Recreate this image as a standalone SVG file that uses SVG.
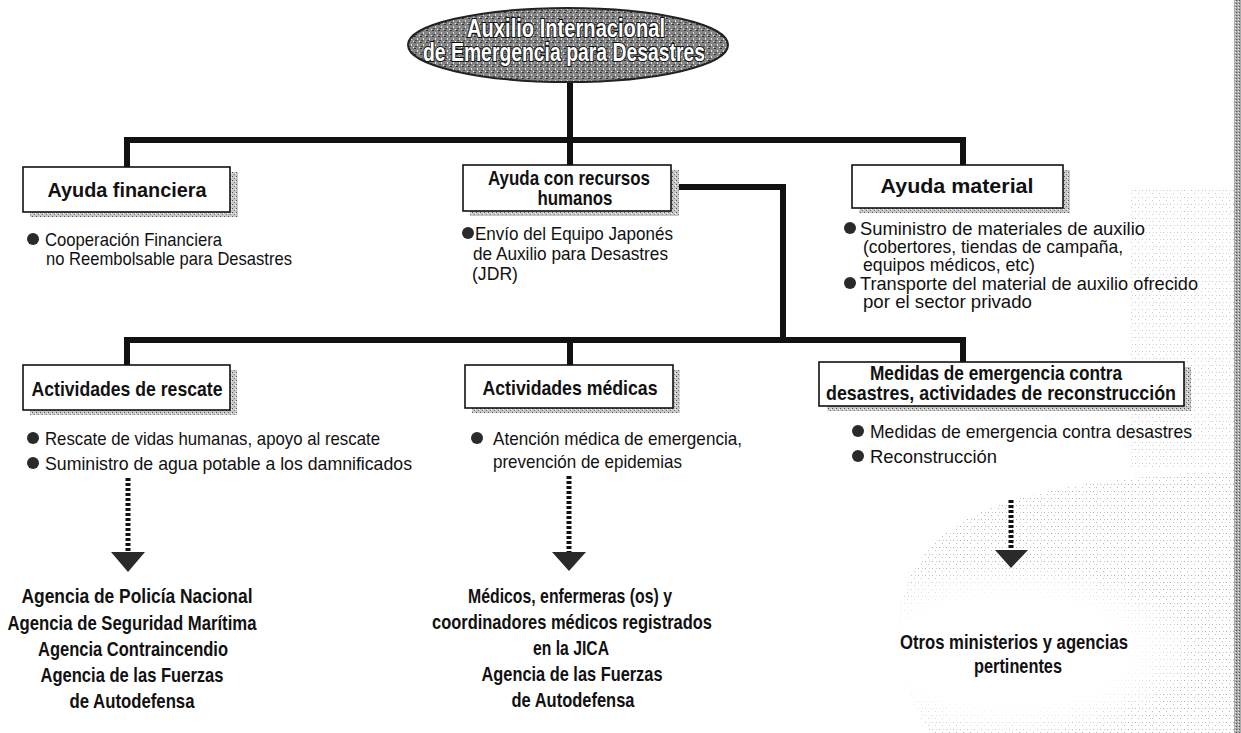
<svg xmlns="http://www.w3.org/2000/svg" width="1241" height="733" viewBox="0 0 1241 733">
<defs>
<pattern id="ellTex" width="6" height="6" patternUnits="userSpaceOnUse">
<rect width="6" height="6" fill="#858585"/>
<rect x="0" y="0" width="2" height="1" fill="#333"/>
<rect x="3" y="2" width="1" height="2" fill="#ddd"/>
<rect x="1" y="4" width="2" height="1" fill="#444"/>
<rect x="5" y="5" width="1" height="1" fill="#eee"/>
</pattern>
<pattern id="shadowTex" width="4" height="4" patternUnits="userSpaceOnUse">
<rect width="4" height="4" fill="#c8c8c8"/>
<rect x="0" y="0" width="1" height="1" fill="#555"/>
<rect x="2" y="2" width="1" height="1" fill="#777"/>
<rect x="3" y="1" width="1" height="1" fill="#fff"/>
</pattern>
<pattern id="speck" width="7" height="7" patternUnits="userSpaceOnUse">
<rect width="7" height="7" fill="#fff"/>
<rect x="1" y="1" width="1" height="1" fill="#999"/>
<rect x="4" y="4" width="1" height="1" fill="#aaa"/>
<rect x="5" y="1" width="1" height="1" fill="#bbb"/>
</pattern>
<pattern id="edgeTex" width="3" height="3" patternUnits="userSpaceOnUse">
<rect width="3" height="3" fill="#aaa"/>
<rect x="0" y="0" width="1" height="1" fill="#555"/>
<rect x="2" y="1" width="1" height="1" fill="#eee"/>
</pattern>
<radialGradient id="fade" cx="0.5" cy="0.5" r="0.5">
<stop offset="0.6" stop-color="#fff" stop-opacity="1"/>
<stop offset="1" stop-color="#fff" stop-opacity="0"/>
</radialGradient>
</defs>
<style>
.box{fill:#fff;stroke:#111;stroke-width:1.6}
.shadow{fill:url(#shadowTex)}
.title{font-family:"Liberation Sans",Arial,sans-serif;font-weight:bold;font-size:21px;fill:#111;text-anchor:middle}
.body{font-family:"Liberation Sans",Arial,sans-serif;font-size:19px;fill:#111}
.agency{font-family:"Liberation Sans",Arial,sans-serif;font-weight:bold;font-size:20.5px;fill:#111;text-anchor:middle}
.bullet{fill:#2a2a2a}
.conn{fill:none;stroke:#111;stroke-width:6;stroke-linejoin:miter;stroke-linecap:square}
.dash{stroke:#111;stroke-width:5;stroke-dasharray:3 2}
.head{fill:#2a2a2a}
.rootText{font-family:"Liberation Sans",Arial,sans-serif;font-weight:bold;font-size:25px;fill:#fff;stroke:#111;stroke-width:2.2;paint-order:stroke;text-anchor:middle}
</style>
<rect width="1241" height="733" fill="#fff"/>
<!-- background texture -->
<path d="M930,733 C900,690 880,620 920,560 C960,500 1060,480 1234,470 L1234,733 Z" fill="url(#speck)" opacity="0.8"/>
<rect x="1130" y="190" width="104" height="280" fill="url(#speck)" opacity="0.6"/>
<ellipse cx="1010" cy="652" rx="190" ry="90" fill="url(#fade)"/>
<rect x="1234" y="0" width="7" height="733" fill="url(#edgeTex)"/>

<g id="connectors">
<polyline class="conn" points="570,82 570,140"/>
<polyline class="conn" points="127,167 127,140 963,140 963,165"/>
<polyline class="conn" points="570,140 570,165"/>
<polyline class="conn" points="680,187 783,187 783,340"/>
<polyline class="conn" points="127,365 127,340 963,340 963,362"/>
<polyline class="conn" points="570,340 570,365"/>
<line class="dash" x1="128" y1="478" x2="128" y2="552"/>
<polygon class="head" points="111,552 145,552 128,572"/>
<line class="dash" x1="569" y1="476" x2="569" y2="552"/>
<polygon class="head" points="552,552 586,552 569,571"/>
<line class="dash" x1="1011" y1="500" x2="1011" y2="550"/>
<polygon class="head" points="995,550 1028,550 1011,568"/>
</g>

<g id="node-root">
<ellipse cx="568" cy="45" rx="160" ry="37" fill="url(#ellTex)" stroke="#222" stroke-width="2"/>
<text class="rootText" x="566" y="37" textLength="198" lengthAdjust="spacingAndGlyphs">Auxilio Internacional</text>
<text class="rootText" x="564" y="61" textLength="282" lengthAdjust="spacingAndGlyphs">de Emergencia para Desastres</text>
</g>

<g id="node-financiera">
<rect class="shadow" x="30" y="172" width="208" height="45"/>
<rect class="box" x="23" y="167" width="207" height="45"/>
<text class="title" x="127" y="197" textLength="159" lengthAdjust="spacingAndGlyphs">Ayuda financiera</text>
<circle class="bullet" cx="33" cy="239" r="6"/>
<text class="body" x="45" y="246" textLength="177" lengthAdjust="spacingAndGlyphs">Cooperación Financiera</text>
<text class="body" x="46" y="265" textLength="246" lengthAdjust="spacingAndGlyphs">no Reembolsable para Desastres</text>
</g>

<g id="node-recursos">
<rect class="shadow" x="470" y="170" width="209" height="46"/>
<rect class="box" x="463" y="165" width="208" height="46"/>
<text class="title" x="569" y="185" textLength="162" lengthAdjust="spacingAndGlyphs">Ayuda con recursos</text>
<text class="title" x="575" y="205" textLength="75" lengthAdjust="spacingAndGlyphs">humanos</text>
<circle class="bullet" cx="468" cy="233" r="6"/>
<text class="body" x="475" y="240" textLength="198" lengthAdjust="spacingAndGlyphs">Envío del Equipo Japonés</text>
<text class="body" x="473" y="260" textLength="195" lengthAdjust="spacingAndGlyphs">de Auxilio para Desastres</text>
<text class="body" x="472" y="280" textLength="46" lengthAdjust="spacingAndGlyphs">(JDR)</text>
</g>

<g id="node-material">
<rect class="shadow" x="859" y="170" width="211" height="43"/>
<rect class="box" x="852" y="165" width="211" height="43"/>
<text class="title" x="957" y="193" textLength="153" lengthAdjust="spacingAndGlyphs">Ayuda material</text>
<circle class="bullet" cx="850" cy="228" r="6"/>
<text class="body" x="860" y="235" textLength="285" lengthAdjust="spacingAndGlyphs">Suministro de materiales de auxilio</text>
<text class="body" x="863" y="253" textLength="260" lengthAdjust="spacingAndGlyphs">(cobertores, tiendas de campaña,</text>
<text class="body" x="863" y="271" textLength="172" lengthAdjust="spacingAndGlyphs">equipos médicos, etc)</text>
<circle class="bullet" cx="850" cy="283" r="6"/>
<text class="body" x="860" y="290" textLength="338" lengthAdjust="spacingAndGlyphs">Transporte del material de auxilio ofrecido</text>
<text class="body" x="863" y="308" textLength="169" lengthAdjust="spacingAndGlyphs">por el sector privado</text>
</g>

<g id="node-rescate">
<rect class="shadow" x="30" y="370" width="207" height="45"/>
<rect class="box" x="23" y="365" width="207" height="45"/>
<text class="title" x="127" y="396" textLength="191" lengthAdjust="spacingAndGlyphs">Actividades de rescate</text>
<circle class="bullet" cx="33" cy="438" r="6"/>
<text class="body" x="45" y="445" textLength="335" lengthAdjust="spacingAndGlyphs">Rescate de vidas humanas, apoyo al rescate</text>
<circle class="bullet" cx="33" cy="463" r="6"/>
<text class="body" x="45" y="470" textLength="367" lengthAdjust="spacingAndGlyphs">Suministro de agua potable a los damnificados</text>
</g>

<g id="node-medicas">
<rect class="shadow" x="472" y="370" width="208" height="43"/>
<rect class="box" x="465" y="365" width="208" height="43"/>
<text class="title" x="570" y="395" textLength="175" lengthAdjust="spacingAndGlyphs">Actividades médicas</text>
<circle class="bullet" cx="477" cy="438" r="6"/>
<text class="body" x="493" y="445" textLength="249" lengthAdjust="spacingAndGlyphs">Atención médica de emergencia,</text>
<text class="body" x="493" y="468" textLength="189" lengthAdjust="spacingAndGlyphs">prevención de epidemias</text>
</g>

<g id="node-medidas">
<rect class="shadow" x="827" y="367" width="364" height="44"/>
<rect class="box" x="819" y="362" width="365" height="44"/>
<text class="title" x="996" y="380" textLength="252" lengthAdjust="spacingAndGlyphs">Medidas de emergencia contra</text>
<text class="title" x="1001" y="400" textLength="350" lengthAdjust="spacingAndGlyphs">desastres, actividades de reconstrucción</text>
<circle class="bullet" cx="858" cy="431" r="6"/>
<text class="body" x="870" y="438" textLength="322" lengthAdjust="spacingAndGlyphs">Medidas de emergencia contra desastres</text>
<circle class="bullet" cx="858" cy="456" r="6"/>
<text class="body" x="870" y="463" textLength="127" lengthAdjust="spacingAndGlyphs">Reconstrucción</text>
</g>

<g id="node-agencias">
<text class="agency" x="137" y="603" textLength="231" lengthAdjust="spacingAndGlyphs">Agencia de Policía Nacional</text>
<text class="agency" x="132" y="630" textLength="249" lengthAdjust="spacingAndGlyphs">Agencia de Seguridad Marítima</text>
<text class="agency" x="133" y="656" textLength="190" lengthAdjust="spacingAndGlyphs">Agencia Contraincendio</text>
<text class="agency" x="132" y="682" textLength="183" lengthAdjust="spacingAndGlyphs">Agencia de las Fuerzas</text>
<text class="agency" x="132" y="708" textLength="125" lengthAdjust="spacingAndGlyphs">de Autodefensa</text>
</g>

<g id="node-medicos">
<text class="agency" x="570" y="603" textLength="204" lengthAdjust="spacingAndGlyphs">Médicos, enfermeras (os) y</text>
<text class="agency" x="572" y="629" textLength="280" lengthAdjust="spacingAndGlyphs">coordinadores médicos registrados</text>
<text class="agency" x="571" y="655" textLength="76" lengthAdjust="spacingAndGlyphs">en la JICA</text>
<text class="agency" x="572" y="681" textLength="181" lengthAdjust="spacingAndGlyphs">Agencia de las Fuerzas</text>
<text class="agency" x="573" y="707" textLength="123" lengthAdjust="spacingAndGlyphs">de Autodefensa</text>
</g>

<g id="node-otros">
<text class="agency" x="1014" y="649" textLength="228" lengthAdjust="spacingAndGlyphs">Otros ministerios y agencias</text>
<text class="agency" x="1018" y="673" textLength="88" lengthAdjust="spacingAndGlyphs">pertinentes</text>
</g>
</svg>
